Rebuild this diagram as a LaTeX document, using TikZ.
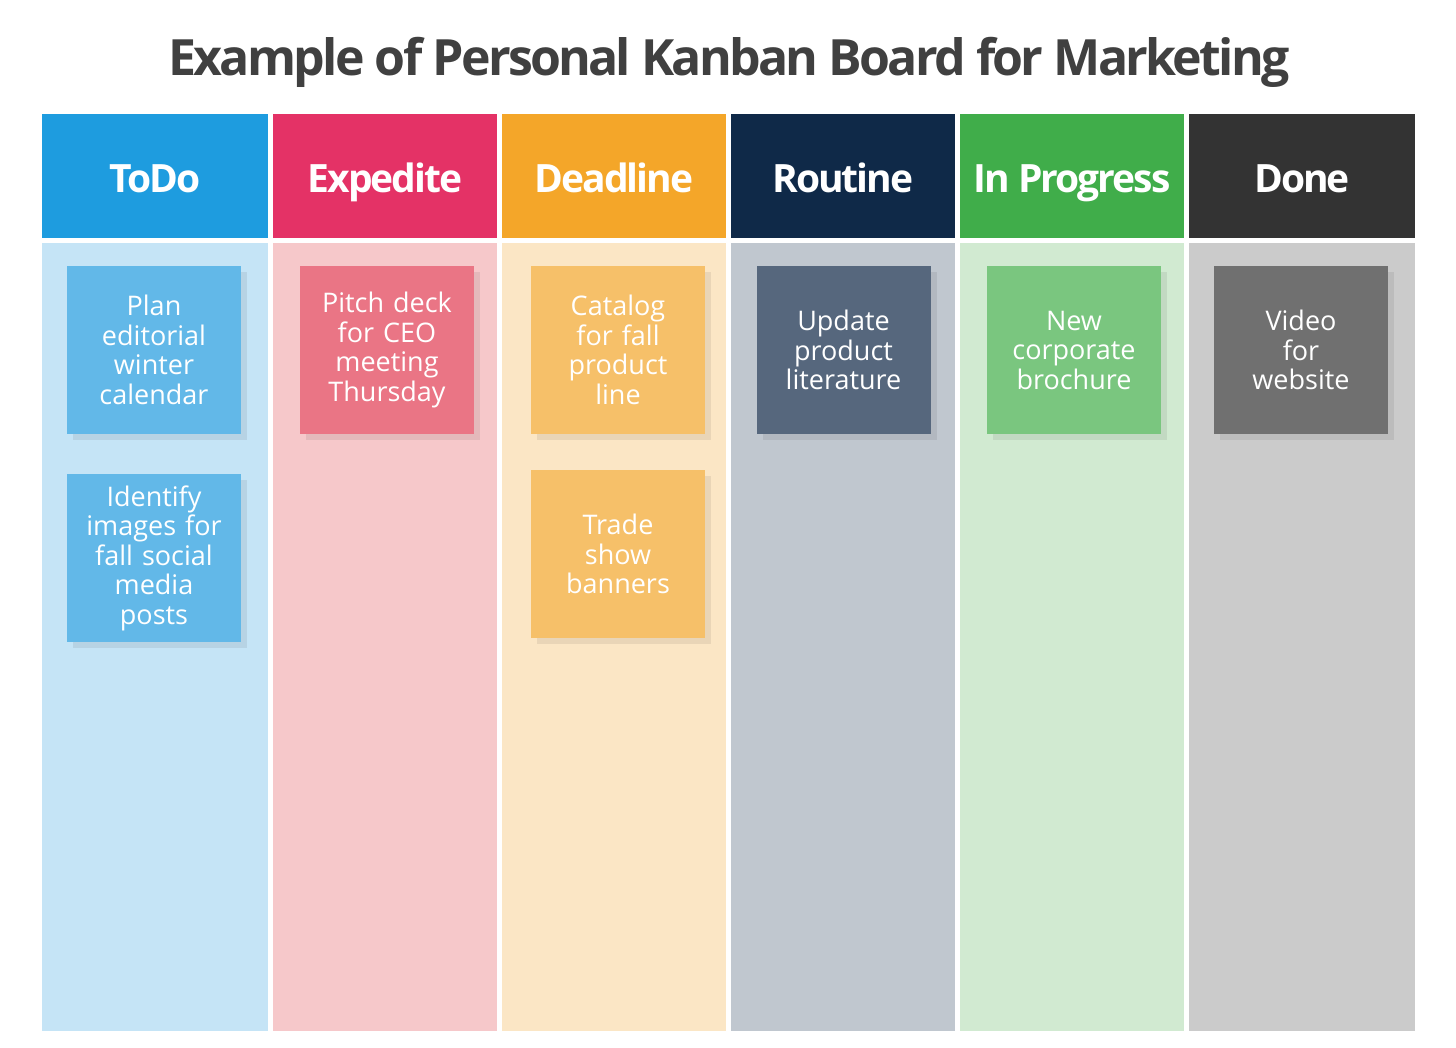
\documentclass[tikz,border=0pt]{standalone}
\usepackage{fontspec}
\setmainfont{Open Sans}
\usetikzlibrary{shadows}
\definecolor{titlegray}{HTML}{404040}
\definecolor{todohead}{HTML}{1E9CDF}
\definecolor{todobody}{HTML}{C5E4F6}
\definecolor{todocard}{HTML}{62B8E8}
\definecolor{exphead}{HTML}{E43266}
\definecolor{expbody}{HTML}{F6C8CA}
\definecolor{expcard}{HTML}{EA7585}
\definecolor{deadhead}{HTML}{F4A629}
\definecolor{deadbody}{HTML}{FBE6C5}
\definecolor{deadcard}{HTML}{F6C069}
\definecolor{routhead}{HTML}{0F2948}
\definecolor{routbody}{HTML}{C0C7CF}
\definecolor{routcard}{HTML}{56677D}
\definecolor{proghead}{HTML}{40AD4A}
\definecolor{progbody}{HTML}{D1EAD1}
\definecolor{progcard}{HTML}{7AC67F}
\definecolor{donehead}{HTML}{333333}
\definecolor{donebody}{HTML}{CBCBCB}
\definecolor{donecard}{HTML}{707070}
\tikzset{head/.style = {inner sep = 0, minimum width = 226, minimum height = 124, text = white,
    text height = 34, text depth = 0, font = \fontsize{39}{39}\selectfont\bfseries\addfontfeatures{LetterSpace=-5.2}}}
\tikzset{lane/.style = {inner sep = 0, minimum width = 226, minimum height = 788}}
\tikzset{card/.style = {inner sep = 0, minimum width = 174, minimum height = 168, text = white,
    align = center, text width = 170, font = \fontsize{27}{29.5}\selectfont,
    drop shadow = {shadow xshift = 6pt, shadow yshift = -6pt, fill = black, opacity = .07}}}

\begin{document}
\begin{tikzpicture}[x = 1pt, y = -1pt]
      \useasboundingbox (0, 0) rectangle (1456, 1048);
      \node [anchor = base, text = titlegray, font = \fontsize{50}{50}\selectfont\bfseries\addfontfeatures{LetterSpace=-5.5}] (title) at (729, 76) {Example of Personal Kanban Board for Marketing};
      % column heads
      \node [head, fill = todohead] (todo) at (155, 176) {ToDo};
      \node [head, fill = exphead, minimum width = 224] (expedite) at (385, 176) {Expedite};
      \node [head, fill = deadhead, minimum width = 224] (deadline) at (614, 176) {Deadline};
      \node [head, fill = routhead, minimum width = 224] (routine) at (843, 176) {Routine};
      \node [head, fill = proghead, minimum width = 224] (progress) at (1072, 176) {In Progress};
      \node [head, fill = donehead] (done) at (1302, 176) {Done};
      % lanes
      \node [lane, fill = todobody] (todolane) at (155, 637) {};
      \node [lane, fill = expbody, minimum width = 224] (expeditelane) at (385, 637) {};
      \node [lane, fill = deadbody, minimum width = 224] (deadlinelane) at (614, 637) {};
      \node [lane, fill = routbody, minimum width = 224] (routinelane) at (843, 637) {};
      \node [lane, fill = progbody, minimum width = 224] (progresslane) at (1072, 637) {};
      \node [lane, fill = donebody] (donelane) at (1302, 637) {};
      % cards
      \node [card, fill = todocard] (plan) at (154, 350) {Plan\\editorial\\winter\\calendar};
      \node [card, fill = todocard] (identify) at (154, 558) {Identify\\images for\\fall social\\media\\posts};
      \node [card, fill = expcard] (pitch) at (387, 350) {Pitch deck\\for CEO\\meeting\\Thursday};
      \node [card, fill = deadcard] (catalog) at (618, 350) {Catalog\\for fall\\product\\line};
      \node [card, fill = deadcard] (trade) at (618, 554) {Trade\\show\\banners};
      \node [card, fill = routcard] (update) at (843.5, 350) {Update\\product\\literature};
      \node [card, fill = progcard] (brochure) at (1074, 350) {New\\corporate\\brochure};
      \node [card, fill = donecard] (video) at (1301, 350) {Video\\for\\website};
    \end{tikzpicture}
\end{document}
